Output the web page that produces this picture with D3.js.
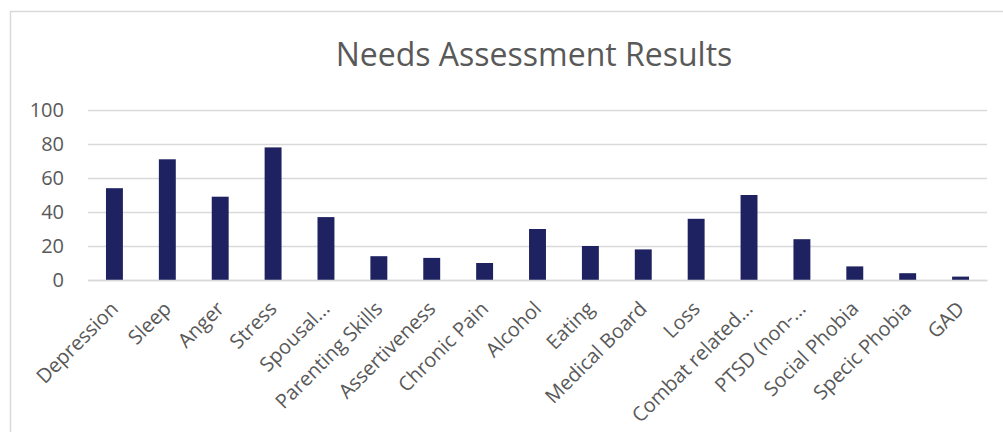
<!DOCTYPE html>
<html>
<head>
<meta charset="utf-8">
<script src="https://cdn.jsdelivr.net/npm/d3@7"></script>
<style>
  body { margin: 0; background: #fff; }
  text { font-family: "Open Sans", sans-serif; fill: #595959; }
</style>
</head>
<body>
<script>
const categories = ["Depression", "Sleep", "Anger", "Stress", "Spousal...", "Parenting Skills",
  "Assertiveness", "Chronic Pain", "Alcohol", "Eating", "Medical Board", "Loss",
  "Combat related...", "PTSD (non-...", "Social Phobia", "Specic Phobia", "GAD"]
const values = [54, 71, 49, 78, 37, 14, 13, 10, 30, 20, 18, 36, 50, 24, 8, 4, 2]
const yTicks = [0, 20, 40, 60, 80, 100]
const title = "Needs Assessment Results"

const w = 1003
const h = 432
const plotLeft = 88, plotRight = 987, plotTop = 110, plotBottom = 280

const svg = d3.select("body")
              .append("svg")
              .attr("width", w)
              .attr("height", h)

// chart frame (only top and left edges visible in the crop)
svg.append("rect")
   .attr("x", 10.5)
   .attr("y", 11.5)
   .attr("width", 1100)
   .attr("height", 600)
   .attr("fill", "none")
   .attr("stroke", "#d9d9d9")
   .attr("stroke-width", 1.5)

svg.append("text")
   .attr("x", 534)
   .attr("y", 66)
   .attr("text-anchor", "middle")
   .style("font-size", "32px")
   .text(title)

const xScale = d3.scaleBand()
                 .domain(categories)
                 .range([plotLeft, plotRight])
                 .paddingInner(0.68)
                 .paddingOuter(0.34)
const yScale = d3.scaleLinear()
                 .domain([0, 100])
                 .range([plotBottom, plotTop])

const yAxis = d3.axisLeft(yScale)
                .tickValues(yTicks)
                .tickSize(-(plotRight - plotLeft))
                .tickPadding(24)

const gy = svg.append("g")
              .attr("id", "y-axis")
              .attr("transform", "translate(" + plotLeft + ", 0)")
              .call(yAxis)
gy.select(".domain").remove()
gy.selectAll(".tick line")
  .attr("stroke", "#d9d9d9")
  .attr("stroke-width", 1.5)
gy.selectAll(".tick text")
  .style("font-size", "20px")
  .style("fill", "#595959")

svg.selectAll("rect.bar")
   .data(values)
   .enter()
   .append("rect")
   .attr("class", "bar")
   .attr("x", (d, i) => xScale(categories[i]))
   .attr("y", (d) => yScale(d))
   .attr("width", xScale.bandwidth())
   .attr("height", (d) => plotBottom - yScale(d))
   .attr("fill", "#1f2260")

const xAxis = d3.axisBottom(xScale)
                .tickSize(0)
                .tickPadding(0)
const gx = svg.append("g")
              .attr("id", "x-axis")
              .attr("transform", "translate(0, " + plotBottom + ")")
              .call(xAxis)
gx.select(".domain")
  .attr("stroke", "#d9d9d9")
  .attr("stroke-width", 1.5)
gx.selectAll(".tick text")
  .style("font-size", "20px")
  .style("fill", "#595959")
  .attr("text-anchor", "end")
  .attr("y", 0)
  .attr("dy", 0)
  .attr("transform", "translate(5, 30) rotate(-45)")
</script>
</body>
</html>
